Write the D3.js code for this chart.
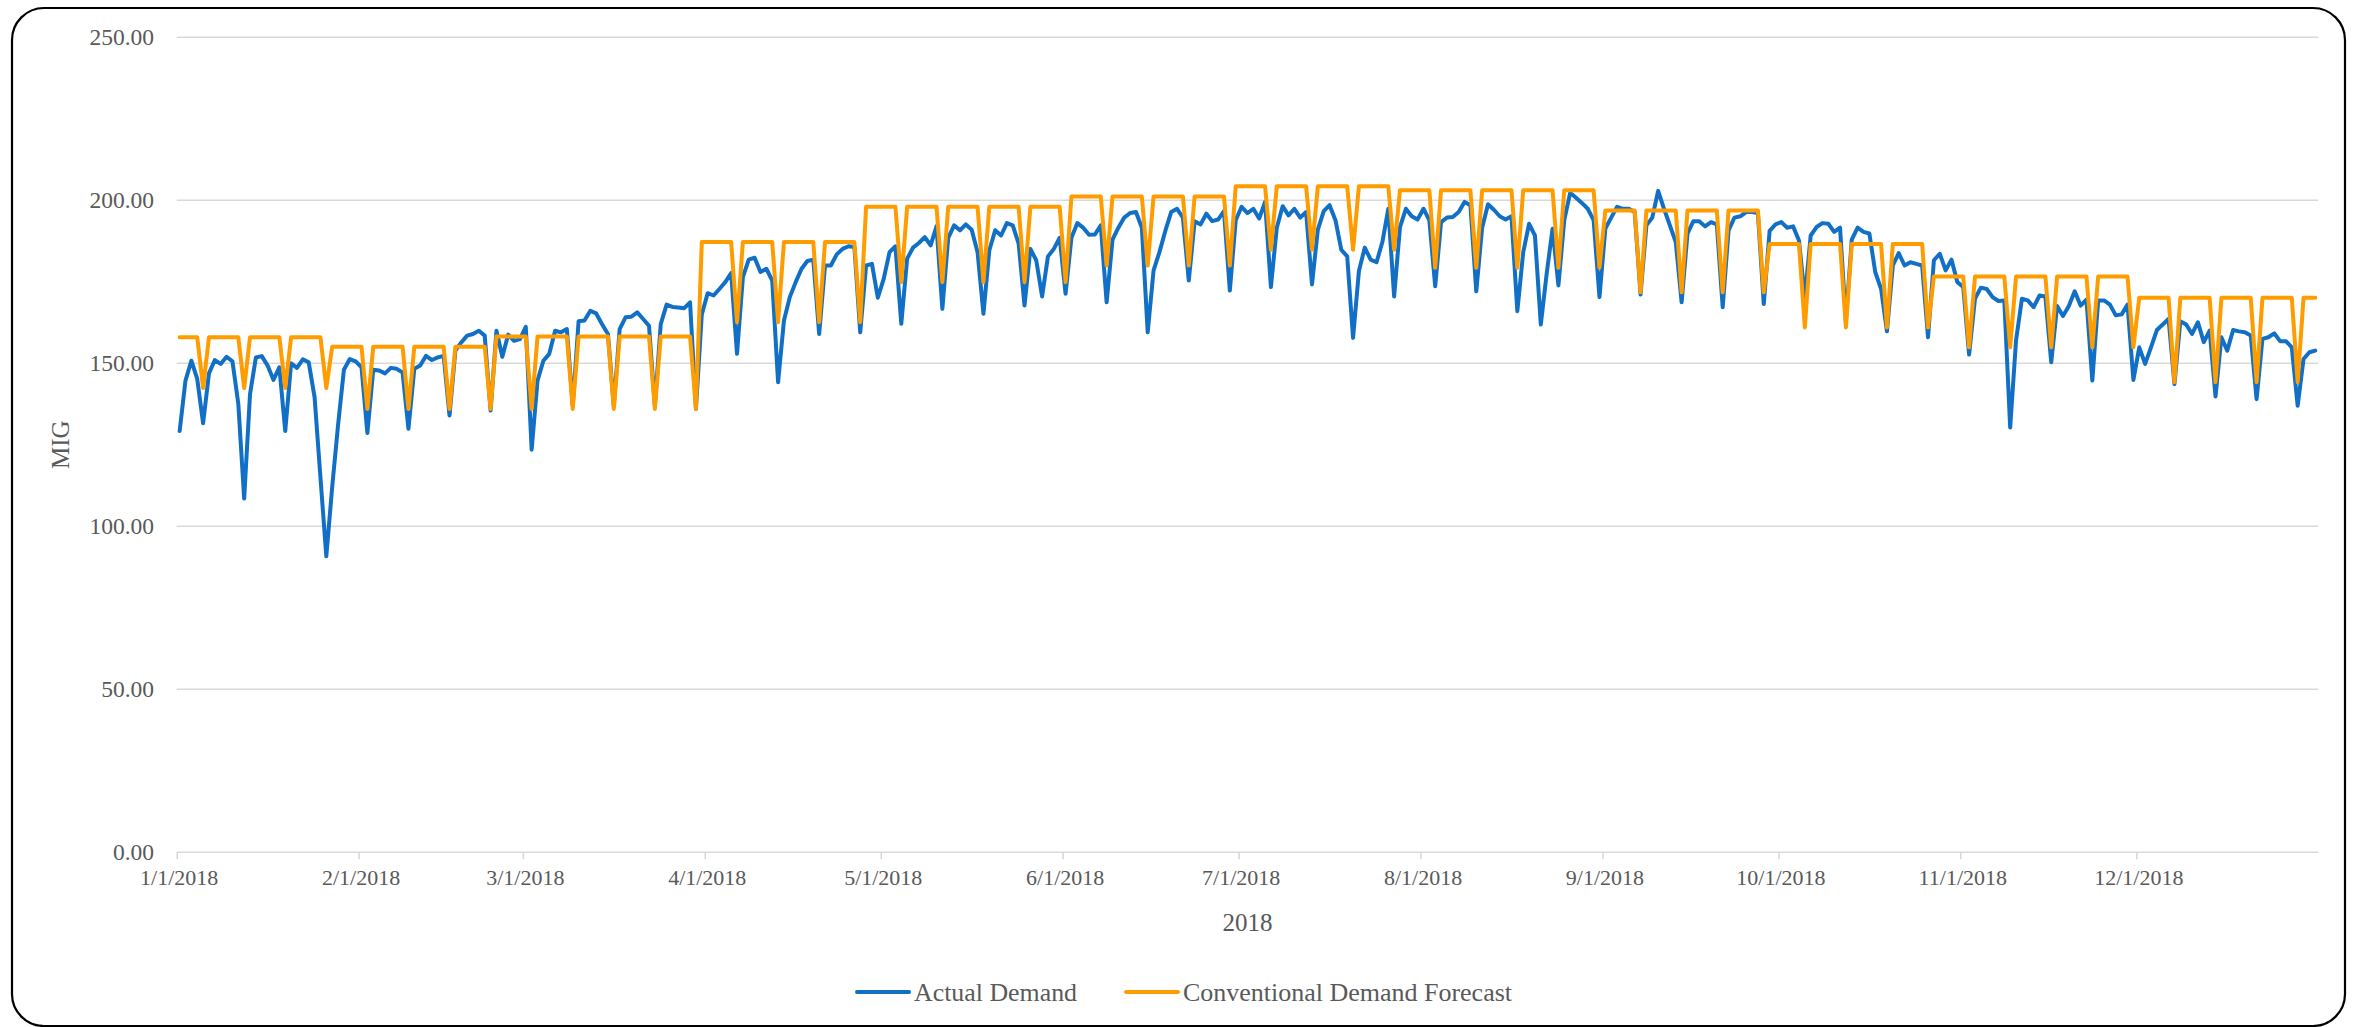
<!DOCTYPE html>
<html>
<head>
<meta charset="utf-8">
<script src="https://cdn.jsdelivr.net/npm/d3@7"></script>
<style>
  html, body { margin: 0; padding: 0; background: #ffffff; }
  svg { display: block; }
</style>
</head>
<body>
<svg id="chart" width="2357" height="1027"></svg>
<script>
// Daily actual demand for 2018 (MIG), one value per day starting 1/1/2018
const actualDemand = [
  129.2, 144.7, 150.8, 145.2, 131.6, 146.9, 151.0, 149.8, 152.0, 150.6,
  137.6, 108.5, 140.6, 151.8, 152.2, 149.3, 144.9, 148.8, 129.2, 150.0,
  148.6, 151.2, 150.3, 139.6, 115.0, 90.8, 112.0, 131.0, 148.0, 151.3,
  150.6, 148.8, 128.6, 148.0, 147.8, 146.9, 148.6, 148.3, 147.2, 129.9,
  148.3, 149.3, 152.3, 151.0, 151.8, 152.3, 134.0, 153.9, 156.4, 158.5,
  159.0, 160.0, 158.5, 135.5, 160.0, 152.0, 158.8, 156.9, 157.4, 161.2,
  123.5, 144.7, 150.8, 152.9, 160.0, 159.5, 160.5, 137.0, 162.9, 163.1,
  166.1, 165.3, 162.0, 159.0, 137.0, 160.5, 164.1, 164.3, 165.6, 163.6,
  161.5, 137.0, 162.0, 168.0, 167.3, 167.1, 166.9, 168.7, 136.0, 165.0,
  171.5, 170.8, 172.8, 174.9, 177.7, 152.9, 176.4, 181.8, 182.4, 178.0,
  179.0, 175.4, 144.2, 163.1, 170.3, 174.9, 179.0, 181.4, 181.8, 159.0,
  180.0, 180.0, 183.4, 185.1, 185.9, 185.7, 159.5, 180.0, 180.5, 170.1,
  175.9, 184.1, 185.9, 162.1, 182.1, 185.5, 186.9, 188.7, 186.2, 192.0,
  166.7, 188.5, 192.3, 190.8, 192.6, 191.0, 184.1, 165.2, 184.6, 190.8,
  189.2, 193.0, 192.3, 186.7, 167.7, 185.1, 181.6, 170.5, 182.8, 185.1,
  188.5, 171.3, 188.5, 193.0, 191.6, 189.4, 189.5, 192.3, 168.7, 187.9,
  191.6, 194.7, 196.1, 196.4, 191.6, 159.5, 178.5, 184.1, 190.6, 196.4,
  197.4, 194.7, 175.4, 193.6, 192.6, 195.9, 193.6, 194.1, 196.7, 172.3,
  193.9, 198.0, 196.1, 197.4, 194.4, 199.5, 173.4, 191.6, 198.2, 195.4,
  197.4, 194.7, 196.4, 174.2, 191.0, 196.7, 198.5, 193.9, 184.8, 182.8,
  157.8, 178.3, 185.5, 181.8, 181.0, 187.2, 197.4, 170.5, 191.8, 197.4,
  195.1, 194.1, 197.4, 193.9, 173.6, 193.3, 194.7, 194.9, 196.4, 199.5,
  198.5, 172.1, 191.6, 198.8, 197.1, 195.1, 194.1, 195.1, 166.0, 184.0,
  192.8, 189.2, 161.9, 177.5, 191.3, 173.9, 193.9, 202.3, 200.8, 199.2,
  197.4, 193.9, 170.3, 191.3, 194.7, 198.0, 197.4, 197.4, 196.4, 171.1,
  192.3, 194.7, 202.9, 197.4, 192.3, 187.2, 168.7, 189.8, 193.6, 193.6,
  192.0, 193.3, 192.6, 167.2, 190.8, 194.7, 195.1, 196.4, 196.4, 196.1,
  168.2, 190.6, 192.6, 193.3, 191.6, 192.0, 187.7, 170.0, 189.2, 191.8,
  193.0, 192.8, 190.3, 191.6, 163.0, 187.9, 191.6, 190.3, 189.8, 178.0,
  172.8, 159.8, 180.0, 183.8, 180.0, 181.0, 180.5, 180.0, 158.0, 181.6,
  183.6, 178.5, 181.8, 174.9, 173.4, 152.7, 169.8, 173.2, 172.8, 170.3,
  169.1, 169.3, 130.3, 157.0, 169.8, 169.3, 167.2, 170.8, 170.5, 150.3,
  167.6, 164.5, 167.6, 172.1, 167.7, 169.5, 144.7, 169.3, 169.3, 168.0,
  164.7, 165.0, 168.0, 144.9, 154.9, 149.8, 154.9, 160.2, 161.9, 163.6,
  143.6, 162.9, 161.9, 159.0, 162.6, 156.5, 160.0, 139.8, 158.0, 153.9,
  160.2, 159.8, 159.5, 158.5, 139.0, 157.5, 158.0, 159.2, 156.8, 156.8,
  154.9, 137.0, 151.3, 153.4, 153.9
];

// Conventional forecast: one level per forecast week, plus the reduced
// value on the closing day of each week
const forecastWeekFlat = [
  158.0, 158.0, 158.0, 158.0,
  155.1, 155.1, 155.1, 155.1,
  158.2, 158.2, 158.2, 158.2, 158.2,
  187.2, 187.2, 187.2, 187.2,
  198.0, 198.0, 198.0, 198.0, 198.0,
  201.2, 201.2, 201.2, 201.2,
  204.3, 204.3, 204.3, 204.3,
  203.1, 203.1, 203.1, 203.1, 203.1,
  196.9, 196.9, 196.9, 196.9,
  186.6, 186.6, 186.6, 186.6,
  176.6, 176.6, 176.6, 176.6, 176.6,
  170.1, 170.1, 170.1, 170.1, 170.1
];
const forecastWeekDip = [
  142.4, 142.4, 142.4, 142.4,
  136.0, 136.0, 136.0, 136.0,
  136.0, 136.0, 136.0, 136.0, 136.0,
  162.6, 162.6, 162.6, 162.6,
  174.9, 174.9, 174.9, 174.9, 174.9,
  180.0, 180.0, 180.0, 180.0,
  184.8, 184.8, 184.8, 184.8,
  179.3, 179.3, 179.3, 179.3, 179.3,
  171.8, 171.8, 171.8, 171.8,
  161.0, 161.0, 161.0, 161.0,
  154.9, 154.9, 154.9, 154.9, 154.9,
  144.2, 144.2, 144.2, 144.2
];
const firstWeekEndDay = 4;   // day index of the first week-closing day

const yTickValues = [0, 50, 100, 150, 200, 250];
const monthTickLabels = ["1/1/2018", "2/1/2018", "3/1/2018", "4/1/2018", "5/1/2018", "6/1/2018",
                         "7/1/2018", "8/1/2018", "9/1/2018", "10/1/2018", "11/1/2018", "12/1/2018"];
const seriesNames = ["Actual Demand", "Conventional Demand Forecast"];
const seriesColors = ["#1170c6", "#ff9c00"];
const xTitle = "2018";
const yTitle = "MIG";

// ---- layout ----
const W = 2357, H = 1027;
const plot = { left: 176.7, right: 2318.2, top: 37.3, bottom: 852.3 };
const FONT = "'Liberation Serif', 'Times New Roman', serif";
const TEXT = "#595959";
const GRID = "#d9d9d9";

const svg = d3.select("#chart");

svg.append("rect")
  .attr("x", 12).attr("y", 8)
  .attr("width", W - 24).attr("height", H - 9)
  .attr("rx", 32).attr("ry", 32)
  .attr("fill", "#ffffff")
  .attr("stroke", "#000000")
  .attr("stroke-width", 2.2);

const x = d3.scaleTime()
  .domain([new Date(2018, 0, 1), new Date(2019, 0, 1)])
  .range([plot.left, plot.right]);
const y = d3.scaleLinear()
  .domain([0, 250])
  .range([plot.bottom, plot.top]);

const dayDate = i => new Date(2018, 0, 1 + i, 12);

// forecast table, day by day, from the weekly levels
const forecast = actualDemand.map((_, d) => {
  const k = d <= firstWeekEndDay ? 0 : Math.ceil((d - firstWeekEndDay) / 7);
  const closing = d >= firstWeekEndDay && (d - firstWeekEndDay) % 7 === 0;
  return closing ? forecastWeekDip[k] : forecastWeekFlat[k];
});

// horizontal gridlines
svg.append("g")
  .selectAll("line")
  .data(yTickValues)
  .join("line")
  .attr("x1", plot.left).attr("x2", plot.right)
  .attr("y1", d => y(d)).attr("y2", d => y(d))
  .attr("stroke", GRID).attr("stroke-width", 1.6);

// y axis labels
const yAxis = d3.axisLeft(y).tickValues(yTickValues).tickFormat(d3.format(".2f")).tickSize(0).tickPadding(0);
const yG = svg.append("g").attr("transform", `translate(${154},0)`).call(yAxis);
yG.select(".domain").remove();
yG.selectAll("text")
  .attr("font-family", FONT).attr("font-size", 23.5).attr("fill", TEXT)
  .attr("dy", "0.32em");

// x axis (month ticks)
const monthStarts = d3.range(12).map(m => new Date(2018, m, 1));
const xAxis = d3.axisBottom(x).tickValues(monthStarts)
  .tickFormat((d, i) => monthTickLabels[i]).tickSize(7).tickPadding(10);
const xG = svg.append("g").attr("transform", `translate(0,${plot.bottom})`).call(xAxis);
xG.select(".domain").remove();
xG.selectAll(".tick line").attr("stroke", GRID).attr("stroke-width", 1.6);
xG.selectAll("text")
  .attr("font-family", FONT).attr("font-size", 22).attr("fill", TEXT)
  .attr("dx", 2);

// axis titles
svg.append("text")
  .attr("x", (plot.left + plot.right) / 2).attr("y", 931)
  .attr("text-anchor", "middle")
  .attr("font-family", FONT).attr("font-size", 25).attr("fill", TEXT)
  .text(xTitle);
svg.append("text")
  .attr("transform", `translate(${69},${(plot.top + plot.bottom) / 2}) rotate(-90)`)
  .attr("text-anchor", "middle")
  .attr("font-family", FONT).attr("font-size", 25).attr("fill", TEXT)
  .text(yTitle);

// series lines
const line = d3.line()
  .x((d, i) => x(dayDate(i)))
  .y(d => y(d));

const seriesData = [actualDemand, forecast];
svg.append("g")
  .selectAll("path")
  .data(seriesData)
  .join("path")
  .attr("d", d => line(d))
  .attr("fill", "none")
  .attr("stroke", (d, i) => seriesColors[i])
  .attr("stroke-width", 4)
  .attr("stroke-linejoin", "round")
  .attr("stroke-linecap", "round");

// legend
const legendItems = [
  { name: seriesNames[0], color: seriesColors[0], x0: 857, width: 163 },
  { name: seriesNames[1], color: seriesColors[1], x0: 1126, width: 329 }
];
const lg = svg.append("g").selectAll("g").data(legendItems).join("g");
lg.append("line")
  .attr("x1", d => d.x0).attr("x2", d => d.x0 + 52)
  .attr("y1", 992).attr("y2", 992)
  .attr("stroke", d => d.color).attr("stroke-width", 4).attr("stroke-linecap", "round");
lg.append("text")
  .attr("x", d => d.x0 + 57).attr("y", 1001)
  .attr("font-family", FONT).attr("font-size", 25).attr("fill", TEXT)
  .attr("textLength", d => d.width).attr("lengthAdjust", "spacingAndGlyphs")
  .text(d => d.name);
</script>
</body>
</html>
